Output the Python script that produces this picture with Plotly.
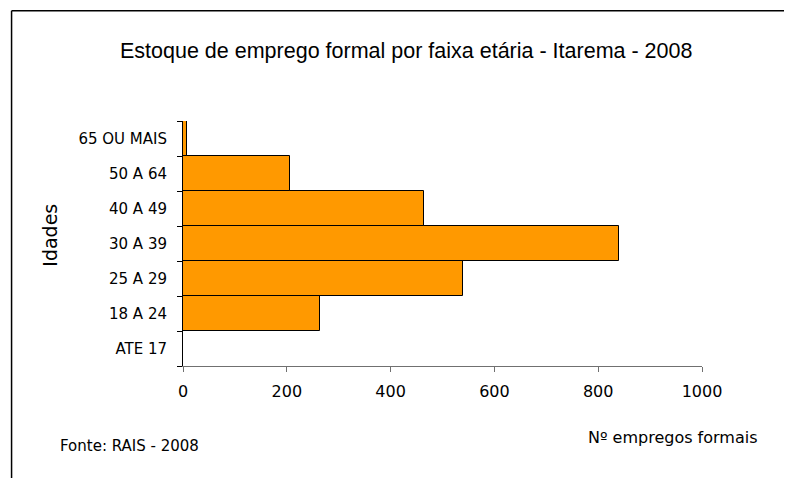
import plotly.graph_objects as go

categories = ["ATE 17", "18 A 24", "25 A 29", "30 A 39", "40 A 49", "50 A 64", "65 OU MAIS"]
values = [0, 264, 539, 841, 465, 206, 8]
x_ticks = [0, 200, 400, 600, 800, 1000]

OFF = 8  # page body margin
W, H = 792 - OFF, 478 - OFF
L, R, T, B = 182.5 - OFF, 90.3, 121 - OFF, 112.3
PW = W - L - R
PH = H - T - B

def px(x):
    return (x - OFF - L) / PW

def py(y):
    return (H - B - (y - OFF)) / PH

fig = go.Figure(go.Bar(
    y=categories, x=values, orientation="h",
    marker=dict(color="#FF9900", line=dict(color="#000000", width=1)),
))

fig.update_layout(
    width=W, height=H,
    margin=dict(l=L, r=R, t=T, b=B, autoexpand=False),
    paper_bgcolor="white", plot_bgcolor="white",
    bargap=0, showlegend=False,
    font=dict(family="DejaVu Sans", size=15, color="#000000"),
)
fig.update_xaxes(
    range=[0, 1000], tickvals=x_ticks, ticktext=[str(v) for v in x_ticks],
    showgrid=False, zeroline=False, showline=True, linecolor="#707070", linewidth=1,
    ticks="outside", ticklen=5, tickcolor="#707070", ticklabelstandoff=6,
    tickfont=dict(family="DejaVu Sans", size=16),
)
fig.update_yaxes(
    categoryorder="array", categoryarray=categories,
    showgrid=False, zeroline=False, showline=True, linecolor="#000000", linewidth=1,
    ticks="outside", ticklen=5, tickcolor="#000000", tickson="boundaries",
    ticklabelstandoff=12,
    tickfont=dict(family="DejaVu Sans", size=15),
)

ann = []
ann.append(dict(text="Estoque de emprego formal por faixa etária - Itarema - 2008",
                x=px(406), y=py(51), xref="paper", yref="paper", showarrow=False,
                xanchor="center", yanchor="middle",
                font=dict(family="Liberation Sans", size=21.5)))
ann.append(dict(text="Idades", x=px(50), y=py(235), xref="paper", yref="paper",
                showarrow=False, textangle=-90, xanchor="center", yanchor="middle",
                font=dict(family="DejaVu Sans", size=19)))
ann.append(dict(text="Nº empregos formais", x=px(760), y=py(437), xref="paper", yref="paper",
                showarrow=False, xanchor="right", yanchor="middle",
                font=dict(family="DejaVu Sans", size=16)))
ann.append(dict(text="Fonte: RAIS - 2008", x=px(57), y=py(446), xref="paper", yref="paper",
                showarrow=False, xanchor="left", yanchor="middle",
                font=dict(family="DejaVu Sans", size=15)))
fig.update_layout(annotations=ann)

fig.update_layout(shapes=[
    dict(type="line", xref="paper", yref="paper", x0=px(11), x1=px(792), y0=py(11), y1=py(11),
         line=dict(color="#000000", width=1.5)),
    dict(type="line", xref="paper", yref="paper", x0=px(11), x1=px(11), y0=py(11), y1=py(478),
         line=dict(color="#000000", width=1.5)),
])

fig.write_html("out.html")
